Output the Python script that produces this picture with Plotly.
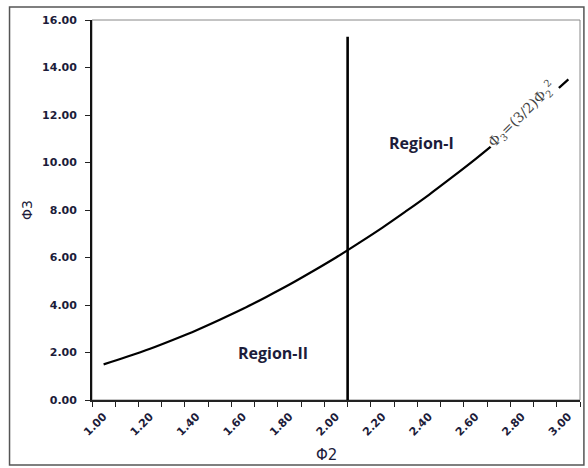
import plotly.graph_objects as go

# Phi2 grid and the boundary curve Phi3 = (3/2) * Phi2^2
phi2 = [1.00, 1.10, 1.20, 1.30, 1.40, 1.50, 1.60, 1.70, 1.80, 1.90, 2.00,
        2.10, 2.20, 2.30, 2.40, 2.50, 2.60, 2.70, 2.80, 2.90, 3.00]
phi3 = [1.50, 1.82, 2.16, 2.54, 2.94, 3.38, 3.84, 4.34, 4.86, 5.42, 6.00,
        6.62, 7.26, 7.94, 8.64, 9.38, 10.14, 10.94, 11.76, 12.62, 13.50]

# vertical divider
divider_x = [2.05, 2.05]
divider_y = [0.0, 15.3]

x_ticks = [1.00, 1.20, 1.40, 1.60, 1.80, 2.00, 2.20, 2.40, 2.60, 2.80, 3.00]
x_tick_text = ["%.2f" % v for v in x_ticks]

navy = "#1c1c3a"
tick_font = dict(family="DejaVu Sans", size=11, color=navy, weight="bold")

fig = go.Figure()
fig.add_trace(go.Scatter(x=phi2, y=phi3, mode="lines",
                         line=dict(color="black", width=2.2, shape="spline"),
                         hoverinfo="skip"))
fig.add_trace(go.Scatter(x=divider_x, y=divider_y, mode="lines",
                         line=dict(color="black", width=2.6),
                         hoverinfo="skip"))

fig.update_layout(
    width=588, height=468,
    margin=dict(l=92, r=8, t=20, b=68),
    paper_bgcolor="white", plot_bgcolor="white",
    showlegend=False,
    xaxis=dict(range=[0.95, 3.05], tickvals=x_ticks, ticktext=x_tick_text,
               tickangle=-45, tickfont=tick_font, ticks="",
               ticklabelstandoff=4,
               showgrid=False, zeroline=False,
               showline=True, linecolor="#222", linewidth=1.5,
               minor=dict(ticks="outside", tick0=0.95, dtick=0.1,
                          ticklen=5, tickcolor="#222", tickwidth=1.3,
                          showgrid=False)),
    yaxis=dict(range=[0, 16], dtick=2, tickformat=".2f",
               tickfont=tick_font, ticks="outside", ticklen=5,
               tickcolor="#222", tickwidth=1.3, ticklabelstandoff=6,
               showgrid=False, zeroline=False,
               showline=True, linecolor="#111", linewidth=1.8),
)

# thin plot-area border and the outer frame
fig.add_shape(type="rect", xref="paper", yref="paper", x0=0, y0=0, x1=1, y1=1,
              line=dict(color="#888", width=1), layer="below")
fig.add_shape(type="rect", xref="paper", yref="paper",
              x0=-0.169, y0=-0.171, x1=1.008, y1=1.034,
              line=dict(color="#555", width=1.5), layer="below")

region_font = dict(family="Open Sans", size=16, color=navy, weight="bold")
fig.add_annotation(x=2.37, y=10.82, text="Region-I", showarrow=False, font=region_font)
fig.add_annotation(x=1.73, y=1.98, text="Region-II", showarrow=False, font=region_font)

# curve label laid along the line, masking it
fig.add_annotation(x=2.80, y=12.05,
                   text="Φ<sub>3</sub>=(3/2)Φ<sub>2</sub><sup>2</sup>",
                   showarrow=False, textangle=-44, bgcolor="white",
                   borderpad=1,
                   font=dict(family="DejaVu Serif", size=14, color="#444"))

# axis titles
fig.add_annotation(xref="paper", yref="paper", x=(326 - 92) / 488, y=(400 - 455) / 380,
                   xanchor="center", yanchor="middle",
                   text="Φ2", showarrow=False,
                   font=dict(family="DejaVu Sans", size=15, color=navy))
fig.add_annotation(xref="paper", yref="paper", x=(27 - 92) / 488, y=(400 - 210) / 380,
                   xanchor="center", yanchor="middle",
                   text="Φ3", showarrow=False, textangle=-90,
                   font=dict(family="DejaVu Sans", size=14, color=navy))

fig.write_html("out.html")
